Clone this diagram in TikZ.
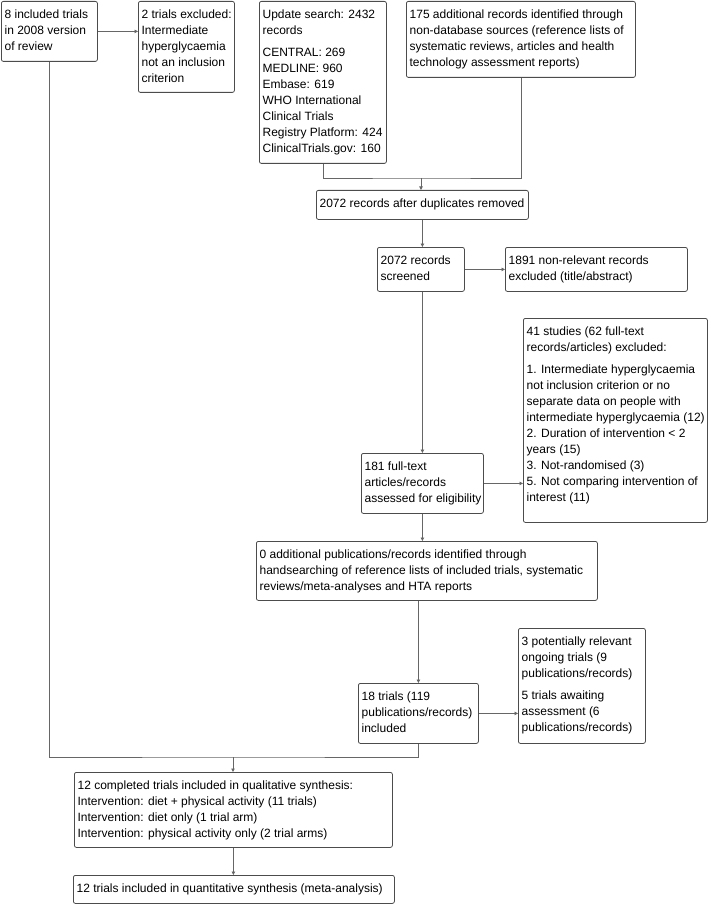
\documentclass[tikz,border=0pt]{standalone}
\usepackage{fontspec}
\setmainfont{Liberation Sans}
\usetikzlibrary{arrows.meta}
\newcommand{\bxt}[3]{\makebox[#1][l]{\begin{minipage}[t][#2][t]{\dimexpr #1+40pt\relax}\raggedright\fontsize{12pt}{16pt}\selectfont\rule{0pt}{17pt}#3\end{minipage}}}
\newcommand{\flowbox}[6]{\node[bx, anchor=north west] (#1) at (#2pt,-#3pt) {\bxt{\dimexpr #4pt-#2pt-6.5pt\relax}{\dimexpr #5pt-#3pt\relax}{#6}};}
\tikzset{
  bx/.style={draw=black!70, rounded corners=2pt, inner xsep=3.25pt, inner ysep=0pt, line width=0.8pt},
  conn/.style={draw=black!60, line width=0.8pt},
  arr/.style={conn, -{Triangle[length=3.5pt,width=3.5pt]}}
}
\begin{document}
\begin{tikzpicture}
\useasboundingbox (0,0) rectangle (708pt,-904pt);
\flowbox{A}{1}{1}{97}{61}{8 included trials\\ in 2008 version\\ of review}
\flowbox{B}{138}{1}{234}{92}{2 trials excluded:\\ Intermediate\\ hyperglycaemia\\ not an inclusion\\ criterion}
\flowbox{C}{259}{1}{386}{163}{Update search: 2432\\ records\\[6.5pt] CENTRAL: 269\\ MEDLINE: 960\\ Embase: 619\\ WHO International\\ Clinical Trials\\ Registry Platform: 424\\ ClinicalTrials.gov: 160}
\flowbox{D}{406}{1}{635}{77}{175 additional records identified through\\ non-database sources (reference lists of\\ systematic reviews, articles and health\\ technology assessment reports)}
\flowbox{E}{316}{190}{528}{219}{2072 records after duplicates removed}
\flowbox{F}{377}{247}{464}{291}{2072 records\\ screened}
\flowbox{G}{505}{247}{687}{291}{1891 non-relevant records\\ excluded (title/abstract)}
\flowbox{I}{523}{318}{707}{522}{41 studies (62 full-text\\ records/articles) excluded:\\[6pt] 1. Intermediate hyperglycaemia\\ not inclusion criterion or no\\ separate data on people with\\ intermediate hyperglycaemia (12)\\ 2. Duration of intervention < 2\\ years (15)\\ 3. Not-randomised (3)\\ 5. Not comparing intervention of\\ interest (11)}
\flowbox{H}{361}{453}{483}{513}{181 full-text\\ articles/records\\ assessed for eligibility}
\flowbox{J}{256}{541}{597}{600}{0 additional publications/records identified through\\ handsearching of reference lists of included trials, systematic\\ reviews/meta-analyses and HTA reports}
\flowbox{K}{358}{683}{478}{743}{18 trials (119\\ publications/records)\\ included}
\flowbox{L}{518}{628}{645}{743}{3 potentially relevant\\ ongoing trials (9\\ publications/records)\\[6pt] 5 trials awaiting\\ assessment (6\\ publications/records)}
\flowbox{M}{74}{772}{392}{847}{12 completed trials included in qualitative synthesis:\\ Intervention: diet + physical activity (11 trials)\\ Intervention: diet only (1 trial arm)\\ Intervention: physical activity only (2 trial arms)}
\flowbox{N}{73}{875}{394}{903}{12 trials included in quantitative synthesis (meta-analysis)}
% connectors
\coordinate (j1) at (421pt,-178pt);
\coordinate (j2) at (233pt,-757pt);
\draw[arr] (A.east) -- (A.east -| B.west);
\draw[conn] (C.south) |- (j1) -| (D.south);
\draw[arr] (j1) -- (j1 |- E.north);
\draw[arr] (E.south -| H.north) -- (H.north |- F.north);
\draw[arr] (F.east) -- (G.west);
\draw[arr] (F.south -| H.north) -- (H.north);
\draw[arr] (H.east) -- (H.east -| I.west);
\draw[arr] (H.south) -- (H.south |- J.north);
\draw[arr] (K.north |- J.south) -- (K.north);
\draw[arr] (K.east) -- (K.east -| L.west);
\draw[conn] (A.south) |- (j2) -| (K.south);
\draw[arr] (j2) -- (j2 |- M.north);
\draw[arr] (M.south) -- (M.south |- N.north);
\end{tikzpicture}
\end{document}
